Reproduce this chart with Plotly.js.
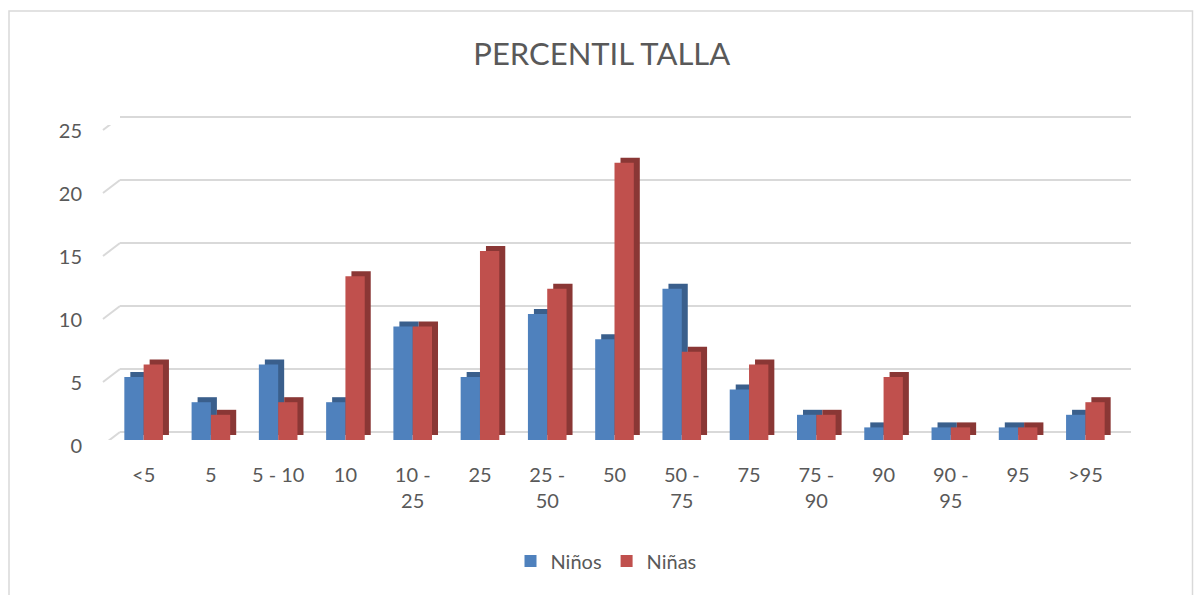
<!DOCTYPE html>
<html>
<head>
<meta charset="utf-8">
<script src="https://cdn.plot.ly/plotly-3.0.1.min.js"></script>
<style>html,body{margin:0;padding:0;background:#fff;}#chart{width:1194px;height:595px;}</style>
</head>
<body>
<div id="chart"></div>
<script>
// ---- data ----
var categories = ["<5", "5", "5 - 10", "10", "10 - 25", "25", "25 - 50", "50", "50 - 75", "75", "75 - 90", "90", "90 - 95", "95", ">95"];
var tickLabels = ["&lt;5", "5", "5 - 10", "10", "10 -<br>25", "25", "25 -<br>50", "50", "50 -<br>75", "75", "75 -<br>90", "90", "90 -<br>95", "95", "&gt;95"];
var ninos = [5, 3, 6, 3, 9, 5, 10, 8, 12, 4, 2, 1, 1, 1, 2];
var ninas = [6, 2, 3, 13, 9, 15, 12, 22, 7, 6, 2, 5, 1, 1, 3];
var yTicks = [0, 5, 10, 15, 20, 25];
var seriesNames = ["Niños", "Niñas"];

// ---- geometry (pixels) ----
var FW = 1194, FH = 595;
var mL = 110, mR = 63, mT = 110, mB = 155;
var W = FW - mL - mR, H = FH - mT - mB;
var yMax = 25, yPad = 0.3;               // small headroom so the top back gridline is kept
var frontW = 1009, frontH = 315;          // pixel size of the 0..25 front plane
var backDX = 10, backDY = 8;
var depthDX = 6, depthDY = 5;
var backH = frontH * (yMax + yPad) / yMax;

var txt = "#595959";
var font = "Lato, 'Open Sans', sans-serif";
var blue = "#4F81BD", red = "#C0504D";
var blueDark = "#3A5F8C", redDark = "#8A3735";
var gridCol = "#d9d9d9";

var idx = categories.map(function(c, i){ return i; });

var traces = [
  // invisible carrier so that the back-wall subplot is drawn
  {type: "scatter", mode: "none", x: idx, y: ninos, xaxis: "x", yaxis: "y", showlegend: false, hoverinfo: "skip"},
  // shadow (depth) bars
  {type: "bar", x: idx, y: ninos, xaxis: "x2", yaxis: "y2", marker: {color: blueDark}, showlegend: false, hoverinfo: "skip"},
  {type: "bar", x: idx, y: ninas, xaxis: "x2", yaxis: "y2", marker: {color: redDark}, showlegend: false, hoverinfo: "skip"},
  // front bars
  {type: "bar", name: seriesNames[0], x: idx, y: ninos, xaxis: "x3", yaxis: "y3", marker: {color: blue}},
  {type: "bar", name: seriesNames[1], x: idx, y: ninas, xaxis: "x3", yaxis: "y3", marker: {color: red}}
];

function px2paperX(p){ return (p - mL) / W; }
function px2paperY(p){ return (mT + H - p) / H; }

var shapes = [];
// outer chart border
shapes.push({type: "rect", xref: "paper", yref: "paper",
  x0: px2paperX(9), x1: px2paperX(1192.5), y0: px2paperY(605), y1: px2paperY(11),
  line: {color: gridCol, width: 1.5}, fillcolor: "rgba(0,0,0,0)", layer: "below"});
// diagonal floor stubs of the back wall gridlines
yTicks.forEach(function(t){
  shapes.push({type: "line", xref: "paper", xsizemode: "pixel", xanchor: 0, x0: -7, x1: backDX,
    yref: "y3", ysizemode: "pixel", yanchor: t, y0: -5, y1: backDY,
    line: {color: gridCol, width: 2}, layer: "below"});
});

var common = {range: [-0.5, categories.length - 0.5], showgrid: false, zeroline: false, showline: false, fixedrange: true};

var layout = {
  width: FW, height: FH,
  margin: {l: mL, r: mR, t: mT, b: mB, pad: 0},
  paper_bgcolor: "#fff", plot_bgcolor: "rgba(0,0,0,0)",
  font: {family: font, color: txt, size: 20},
  title: {text: "PERCENTIL TALLA", font: {family: font, size: 31, color: txt},
    xref: "container", yref: "container", x: 0.504, y: 1 - 54 / FH, xanchor: "center", yanchor: "middle"},
  barmode: "group", bargap: 0.426, bargroupgap: 0,
  showlegend: true,
  legend: {orientation: "h", xref: "paper", yref: "paper", x: px2paperX(606), y: px2paperY(561),
    xanchor: "center", yanchor: "middle", font: {family: font, size: 20, color: txt},
    traceorder: "normal", bgcolor: "rgba(0,0,0,0)"},
  // back wall gridlines
  xaxis: Object.assign({}, common, {domain: [backDX / W, 1], anchor: "y", showticklabels: false, ticks: ""}),
  yaxis: {domain: [backDY / H, (backDY + backH) / H], anchor: "x", range: [0, yMax + yPad], tickvals: yTicks, showticklabels: false, ticks: "",
    showgrid: true, gridcolor: gridCol, gridwidth: 2, zeroline: true, zerolinecolor: gridCol, zerolinewidth: 2, showline: false, fixedrange: true},
  // depth shadows
  xaxis2: Object.assign({}, common, {domain: [depthDX / W, (frontW + depthDX) / W], anchor: "y2", showticklabels: false, ticks: ""}),
  yaxis2: {domain: [depthDY / H, (frontH + depthDY) / H], anchor: "x2", range: [0, yMax], showgrid: false, zeroline: false, showticklabels: false, ticks: "", fixedrange: true},
  // front bars
  xaxis3: Object.assign({}, common, {domain: [0, frontW / W], anchor: "y3", tickmode: "array", tickvals: idx, ticktext: tickLabels,
    ticks: "", ticklabelstandoff: 21, tickfont: {family: font, size: 20, color: txt}}),
  yaxis3: {domain: [0, frontH / H], anchor: "x3", range: [0, yMax], tickvals: yTicks, showgrid: false, zeroline: false, showline: false,
    ticks: "", ticklabelstandoff: 27, ticklabelshift: 6, tickfont: {family: font, size: 20, color: txt}, fixedrange: true},
  shapes: shapes
};

Plotly.newPlot("chart", traces, layout, {displayModeBar: false, staticPlot: true});
</script>
</body>
</html>
